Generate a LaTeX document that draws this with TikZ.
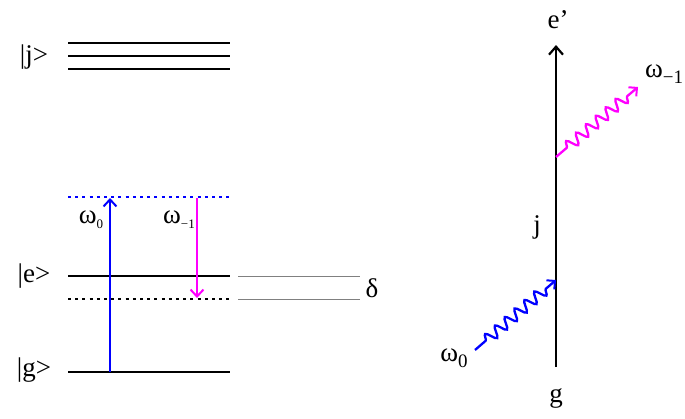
\documentclass[tikz,border=0pt]{standalone}
\usepackage{fontspec}
\setmainfont{Liberation Serif}
\usetikzlibrary{arrows.meta,decorations.pathmorphing}

\definecolor{pmag}{RGB}{255,0,255}
\definecolor{pblue}{RGB}{0,0,255}
\newcommand{\om}[3]{ω\raisebox{-#2}{\fontsize{#3}{#3}\selectfont #1}}

\begin{document}
\begin{tikzpicture}[x=1pt,y=-1pt,
  font=\fontsize{27}{31}\selectfont,
  lev/.style={line width=2.5pt},
  virt/.style={line width=2.3pt,dash pattern=on 3pt off 4.2pt},
  gap/.style={gray,line width=1pt},
  trans/.style={line width=2.3pt,-{Straight Barb[length=7pt,width=13pt,line width=2pt]}},
  photon/.style={line width=2.3pt,decorate,
    decoration={snake,amplitude=5.5pt,segment length=13pt,pre length=14pt,post length=10pt},
    -{Straight Barb[length=6pt,width=12pt,line width=2pt]}}]
\useasboundingbox (0,0) rectangle (685,418);

% level scheme
\node (jlab) at (34,57) {|j>};
\node (elab) at (34,276) {|e>};
\node (glab) at (34,370) {|g>};
\foreach \y in {43,56,69} \draw[lev] (68,\y) -- (230,\y);
\coordinate (vl) at (68,197); \coordinate (vr) at (230,197);
\coordinate (el) at (68,276); \coordinate (er) at (230,276);
\coordinate (dl) at (68,299); \coordinate (dr) at (230,299);
\coordinate (gl) at (68,372); \coordinate (gr) at (230,372);
\draw[virt,pblue] (vl) -- (vr);
\draw[lev] (el) -- (er);
\draw[virt] (dl) -- (dr);
\draw[lev] (gl) -- (gr);
\draw[gap] (238,276) -- (360,276);
\draw[gap] (238,299) -- (360,299);
\node (delta) at (372,288) {δ};
\coordinate (up0) at (110,372); \coordinate (up1) at (110,198);
\coordinate (dn0) at (197,198); \coordinate (dn1) at (197,298);
\draw[trans,pblue] (up0) -- (up1);
\draw[trans,pmag] (dn0) -- (dn1);
\node (w0) at (91,220) {\om{0}{5pt}{13}};
\node (wm) at (179,220) {\om{−1}{5pt}{13}};

% diagram
\coordinate (gpt) at (556,367);
\coordinate (ept) at (556,45);
\draw[line width=2.5pt,-{Straight Barb[length=8pt,width=14pt,line width=2.2pt]}] (gpt) -- (ept);
\node (etop) at (558,20) {e’};
\node (jmid) at (537,227) {j};
\node (gbot) at (556,398) {g};
\coordinate (in0) at (475,350); \coordinate (in1) at (556,280);
\coordinate (out0) at (556,157); \coordinate (out1) at (638,87);
\draw[photon,pblue] (in0) -- (in1);
\draw[photon,pmag] (out0) -- (out1);
\node (win) at (454,358) {\om{0}{6pt}{19}};
\node (wout) at (664,74) {\om{−1}{6pt}{19}};
\end{tikzpicture}
\end{document}
